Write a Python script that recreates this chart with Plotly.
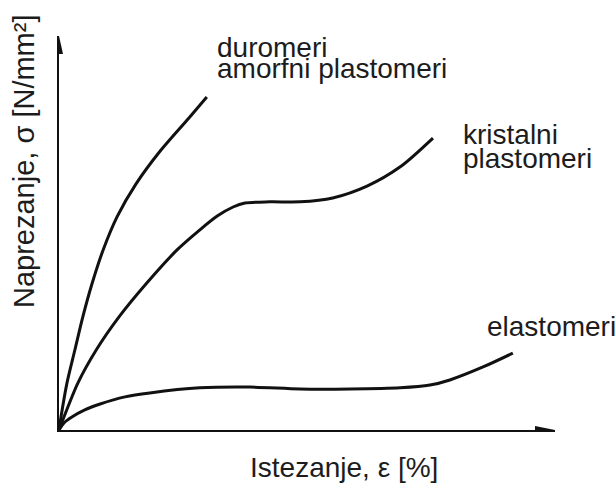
import plotly.graph_objects as go

# Strain (% of axis length) and stress (% of axis height)
duro_strain = [0, 0.4, 1.6, 3.2, 4.8, 6.7, 8.9, 11.7, 15.5, 20.4, 26.2, 29.8]
duro_stress = [0, 3.3, 11.9, 20.3, 28.7, 37.3, 45.7, 54.1, 62.4, 70.8, 79.2, 84.5]

krist_strain = [0, 1.0, 3.8, 7.5, 12.1, 17.7, 23.8, 28.4, 31.9, 35.1, 37.5, 42.5, 48.6, 55.2, 62.1, 68.8, 75.4]
krist_stress = [0, 3.3, 11.9, 20.3, 28.7, 37.3, 45.7, 50.8, 54.3, 56.6, 57.6, 57.9, 57.9, 58.9, 61.9, 66.8, 74.1]

elast_strain = [0, 1.0, 2.6, 5.2, 8.3, 13.3, 18.3, 28.4, 38.5, 48.6, 58.7, 68.8, 74.8, 78.8, 85.5, 91.5]
elast_stress = [0, 1.8, 3.3, 5.1, 6.6, 8.4, 9.4, 10.7, 10.9, 10.4, 10.4, 10.7, 11.4, 12.7, 16.0, 19.5]

curve_labels = ["duromeri", "amorfni plastomeri", "kristalni", "plastomeri", "elastomeri"]
x_title = "Istezanje, ε [%]"
y_title = "Naprezanje, σ [N/mm²]"

W, H = 616, 483
L, R, T, B = 59, 61, 36, 53
pw, ph = W - L - R, H - T - B


def pxx(px):
    return (px - L) / pw


def pxy(py):
    return (H - py - B) / ph


fig = go.Figure()
for xs, ys in [(duro_strain, duro_stress), (krist_strain, krist_stress), (elast_strain, elast_stress)]:
    fig.add_trace(go.Scatter(
        x=xs, y=ys, mode="lines",
        line=dict(color="#111111", width=3, shape="spline", smoothing=0.8),
        cliponaxis=False, showlegend=False, hoverinfo="skip",
    ))

FONT = dict(family="Liberation Sans, Arial, sans-serif", size=28, color="#1c1c1c")

label_pos = [(216, 48), (216, 68), (462, 134), (462, 158), (486, 326)]
annotations = []
for text, (px, py) in zip(curve_labels, label_pos):
    annotations.append(dict(
        x=pxx(px), y=pxy(py), xref="paper", yref="paper", text=text, showarrow=False,
        xanchor="left", yanchor="middle", font=FONT, borderpad=0,
    ))
annotations.append(dict(
    x=pxx(344), y=pxy(467), xref="paper", yref="paper", text=x_title, showarrow=False,
    xanchor="center", yanchor="middle", font=FONT, borderpad=0,
))
annotations.append(dict(
    x=pxx(24), y=pxy(162), xref="paper", yref="paper", text=y_title, showarrow=False,
    xanchor="center", yanchor="middle", textangle=-90, font=dict(FONT, size=29), borderpad=0,
))

shapes = [
    dict(type="path", xref="x", yref="y", xsizemode="pixel", ysizemode="pixel",
         xanchor=100, yanchor=0, path="M0,0 L-20,4 L-20,-4 Z",
         fillcolor="#111111", line=dict(width=0)),
    dict(type="path", xref="x", yref="y", xsizemode="pixel", ysizemode="pixel",
         xanchor=0, yanchor=100, path="M0,0 L-4,-18 L4,-18 Z",
         fillcolor="#111111", line=dict(width=0)),
]

axis_common = dict(showgrid=False, zeroline=False, showticklabels=False, ticks="",
                   showline=True, linecolor="#111111", linewidth=2, fixedrange=True)

fig.update_layout(
    width=W, height=H,
    margin=dict(l=L, r=R, t=T, b=B, pad=0),
    paper_bgcolor="white", plot_bgcolor="white",
    xaxis=dict(range=[0, 100], **axis_common),
    yaxis=dict(range=[0, 100], **axis_common),
    annotations=annotations, shapes=shapes,
    showlegend=False,
)

fig.write_html(
    "out.html",
    config={"displayModeBar": False},
    post_script="document.body.style.margin='0';document.documentElement.style.overflow='hidden';",
)
